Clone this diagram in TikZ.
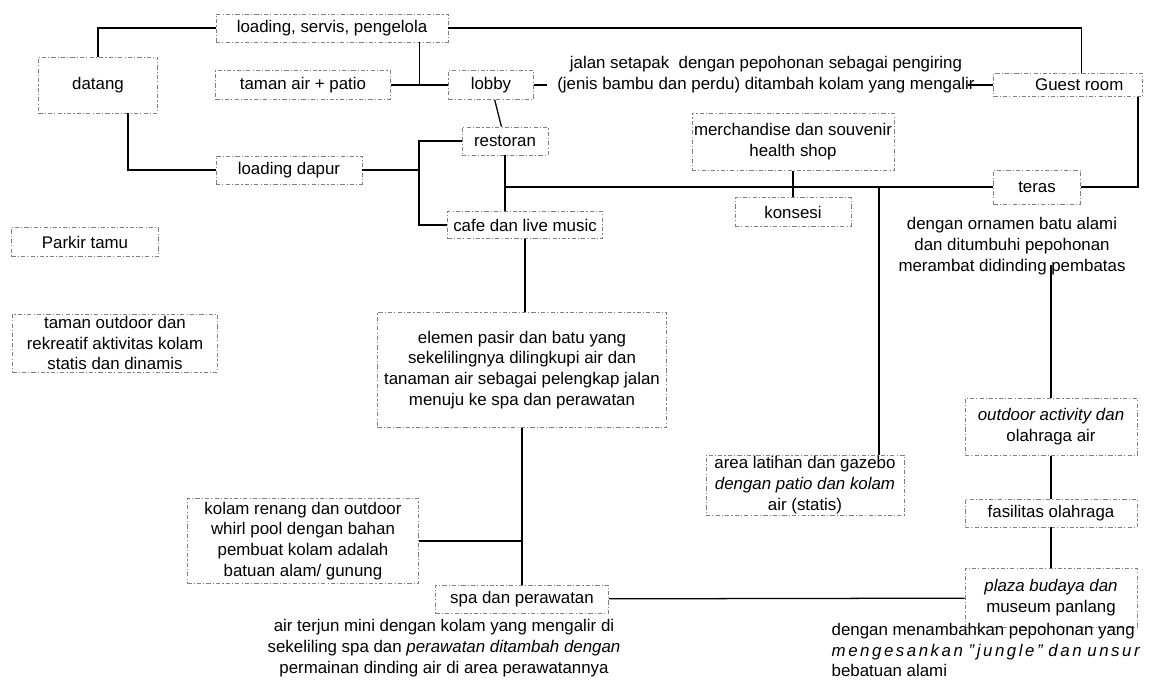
\documentclass[tikz,border=0pt]{standalone}
\usepackage{fontspec}
\setmainfont{Liberation Sans}
\usetikzlibrary{positioning}

\begin{document}
\begin{tikzpicture}
  [x=0.025cm, y=-0.025cm,
   every node/.style={font=\fontsize{12}{14.8}\selectfont, align=center},
   box/.style={rectangle, draw=black!50, line width=0.4pt,
     dash pattern=on 3pt off 1.5pt on 0.8pt off 1.5pt, inner sep=1pt},
   note/.style={inner sep=1pt},
   link/.style={line width=0.9pt}]
  \useasboundingbox (0,0) rectangle (1160,684);

  % entrance side
  \node (datang) at (98,85) [box, minimum width=2.98cm, minimum height=1.4cm] {datang};
  \node (servis) at (332,28) [box, minimum width=5.8cm, minimum height=0.7cm] {loading, servis, pengelola};
  \node (taman) at (303,85) [box, minimum width=4.38cm, minimum height=0.72cm] {taman air + patio};
  \node (dapur) at (289,170) [box, minimum width=3.65cm, minimum height=0.7cm] {loading dapur};
  \node (parkir) at (85,242) [box, minimum width=3.68cm, minimum height=0.72cm] {Parkir tamu};
  \node (rekreatif) at (115,343) [box, minimum width=5.13cm, minimum height=1.45cm]
    {taman outdoor dan\\ rekreatif aktivitas kolam\\ statis dan dinamis};

  % lobby and eating
  \node (lobby) at (491,85) [box, minimum width=2.13cm, minimum height=0.72cm] {lobby};
  \node (restoran) at (505,141) [box, minimum width=2.15cm, minimum height=0.7cm] {restoran};
  \node (cafe) at (525,225) [box, minimum width=3.88cm, minimum height=0.68cm] {cafe dan live music};
  \node (jalan) at (766,75) [note]
    {jalan setapak\ \ dengan pepohonan sebagai pengiring\\ (jenis bambu dan perdu) ditambah kolam yang mengalir};

  % shops and rooms
  \node (merch) at (793,142) [box, minimum width=5.05cm, minimum height=1.43cm]
    {merchandise dan souvenir\\ health shop};
  \node (konsesi) at (793,212) [box, minimum width=2.9cm, minimum height=0.72cm] {konsesi};
  \node (guest) at (1068,85) [box, minimum width=3.73cm, minimum height=0.58cm] {\hspace*{16pt}Guest room};
  \node (teras) at (1037,187) [box, minimum width=2.18cm, minimum height=0.85cm] {teras};
  \node (ornamen) at (1012,246) [note]
    {dengan ornamen batu alami\\ dan ditumbuhi pepohonan\\ merambat didinding pembatas};

  % water and spa
  \node (elemen) at (522,370) [box, minimum width=7.23cm, minimum height=2.88cm]
    {elemen pasir dan batu yang\\ sekelilingnya dilingkupi air dan\\ tanaman air sebagai pelengkap jalan\\ menuju ke spa dan perawatan};
  \node (kolam) at (303,541) [box, minimum width=5.78cm, minimum height=2.13cm]
    {kolam renang dan outdoor\\ whirl pool dengan bahan\\ pembuat kolam adalah\\ batuan alam/ gunung};
  \node (spa) at (522,599) [box, minimum width=4.33cm, minimum height=0.7cm] {spa dan perawatan};
  \node (terjun) at (444,648) [note]
    {air terjun mini dengan kolam yang mengalir di\\ sekeliling spa dan \textit{perawatan ditambah dengan}\\ permainan dinding air di area perawatannya};

  % sport and culture
  \node (latihan) at (805,485) [box, minimum width=4.95cm, minimum height=1.43cm]
    {area latihan dan gazebo\\ \textit{dengan patio dan kolam}\\ air (statis)};
  \node (activity) at (1051,427) [box, minimum width=4.3cm, minimum height=1.43cm]
    {\textit{outdoor activity dan}\\ olahraga air};
  \node (fasilitas) at (1051,513) [box, minimum width=4.3cm, minimum height=0.7cm] {fasilitas olahraga};
  \node (plaza) at (1051,598) [box, minimum width=4.3cm, minimum height=1.48cm]
    {\textit{plaza budaya dan}\\ museum panlang};
  \node (jungle) at (830,650) [note, anchor=west, align=left]
    {dengan menambahkan pepohonan yang\\
     \makebox[7.7cm][s]{\itshape\addfontfeature{LetterSpace=15}mengesankan \symbol{34}jungle\symbol{34} dan unsur}\\
     bebatuan alami};

  % connectors
  \draw [link] (datang.north) |- (servis.west);
  \draw [link] ([xshift=0.75cm]datang.south) |- (dapur.west);
  \draw [link] (taman) -- (lobby);
  \draw [link] ([xshift=2.18cm]servis.south) coordinate (s1) -- (s1 |- lobby);
  \draw [link] (servis.east) -| ([xshift=0.33cm]guest.north);
  \draw [link] (lobby.east) -- ([xshift=-6pt]lobby -| jalan.west);
  \draw [link] ([xshift=-6pt]jalan.east |- guest) -- (guest.west);
  \draw [link] (lobby) -- (restoran);
  \coordinate (j1) at (419,170);
  \draw [link] (dapur.east) -- (j1);
  \draw [link] (restoran.west) -| (j1) |- (cafe.west);
  \draw [link] (restoran.south) -- (restoran.south |- cafe.north);
  \draw [link] (restoran.south |- teras) -- (teras.west);
  \draw [link] (teras.east) -| ([xshift=1.75cm]guest.south);
  \draw [link] (merch) -- (konsesi);
  \draw [link] ([xshift=1.85cm]latihan.north) coordinate (l1) -- (l1 |- teras);
  \draw [link] (cafe.south) -- (cafe.south |- elemen.north);
  \draw [link] (elemen) -- (spa);
  \draw [link] (kolam.east) -- (kolam.east -| spa.north);
  \draw [link] (spa) -- (plaza);
  \draw [link] (activity.north) -- ([yshift=8pt]activity.north |- ornamen.south);
  \draw [link] (activity) -- (fasilitas);
  \draw [link] (fasilitas) -- (plaza);
\end{tikzpicture}
\end{document}
